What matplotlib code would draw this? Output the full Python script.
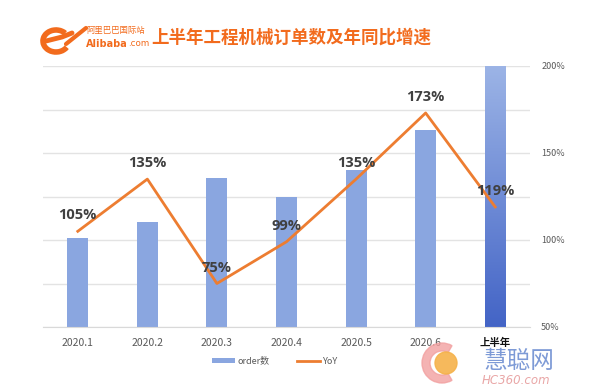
import matplotlib
matplotlib.use("Agg")
import matplotlib.pyplot as plt
import numpy as np
from matplotlib.patches import Patch, Circle, Wedge, Arc
from matplotlib.lines import Line2D
from matplotlib.colors import LinearSegmentedColormap

plt.rcParams['font.family'] = ['Noto Sans CJK SC', 'DejaVu Sans']

categories = ['2020.1', '2020.2', '2020.3', '2020.4', '2020.5', '2020.6', '上半年']
orders = [20.5, 24.1, 34.3, 29.9, 36.1, 45.3, 60.0]
yoy = [105, 135, 75, 99, 135, 173, 119]
yoy_labels = ['105%', '135%', '75%', '99%', '135%', '173%', '119%']
right_ticks = [50, 100, 150, 200]
right_tick_labels = ['50%', '100%', '150%', '200%']

W, H = 600, 387
fig = plt.figure(figsize=(6, 3.87), dpi=100)
fig.patch.set_facecolor('white')

ax = fig.add_axes([43/W, 1-327/H, (530-43)/W, (327-66)/H])
ax2 = ax.twinx()

x = np.arange(len(categories))
bar_color = '#8aa6e0'
bars = ax.bar(x, orders, width=0.3, color=bar_color, zorder=2)

# gradient for last bar
last = bars[-1]
last.set_facecolor('none')
cmap = LinearSegmentedColormap.from_list('g', ['#4364c6', '#9cb4e6'])
grad = np.linspace(0, 1, 256).reshape(-1, 1)
bx = last.get_x(); bw = last.get_width(); bh = last.get_height()
im = ax.imshow(grad, cmap=cmap, origin='lower', aspect='auto',
               extent=[bx, bx + bw, 0, bh], zorder=2)
im.set_clip_path(last)

ax.set_xlim(-0.5, len(categories) - 0.5)
ax.set_ylim(0, 60)
ax.set_yticks(np.arange(0, 61, 10))
ax.yaxis.grid(True, color='#e3e3e3', linewidth=1, zorder=0)
ax.set_axisbelow(True)
ax.tick_params(axis='y', left=False, labelleft=False)
ax.set_xticks(x)
ax.set_xticklabels(categories, fontsize=7.5, color='#595959')
ax.tick_params(axis='x', length=0, pad=8)
lbl = ax.get_xticklabels()[-1]
lbl.set_color('#111111'); lbl.set_fontweight('bold')
for s in ['top', 'left', 'right']:
    ax.spines[s].set_visible(False)
ax2.spines[:].set_visible(False)
ax.spines['bottom'].set_color('#d9d9d9')

ax2.plot(x, yoy, color='#ed7d31', linewidth=2, zorder=5)
ax2.set_ylim(50, 200)
ax2.set_yticks(right_ticks)
ax2.set_yticklabels(right_tick_labels, fontsize=6.5, color='#595959')
ax2.tick_params(axis='y', length=0, pad=8)
for xi, v, t in zip(x, yoy, yoy_labels):
    ax2.annotate(t, (xi, v), xytext=(0, 11.5), textcoords='offset points',
                 ha='center', va='center', fontsize=10.5, fontweight='bold',
                 color='#404040', family=['Open Sans', 'DejaVu Sans'], zorder=6)

handles = [Patch(facecolor=bar_color, edgecolor='none'),
           Line2D([0], [0], color='#ed7d31', linewidth=2)]
fig.legend(handles, ['order数', 'YoY'], loc='center', bbox_to_anchor=(275/W, 1-361/H),
           ncol=2, frameon=False, fontsize=6.5, labelcolor='#595959',
           handlelength=2.6, handleheight=0.5, columnspacing=3, handletextpad=0.3)

# title
orange = '#f26b1d'
fig.text(151/W, 1-38/H, '上半年工程机械订单数及年同比增速', fontsize=12.6, fontweight='bold',
         color=orange, ha='left', va='center')
fig.text(86/W, 1-31/H, '阿里巴巴国际站', fontsize=6, color=orange, ha='left', va='center')
t1 = fig.text(86/W, 1-44/H, 'Alibaba', fontsize=7, fontweight='bold', color=orange,
              ha='left', va='center', family=['DejaVu Sans'])
fig.canvas.draw()
bb = t1.get_window_extent()
fig.text(bb.x1/W, 1-44/H, '.com', fontsize=6.3, color=orange, ha='left', va='center',
         family=['DejaVu Sans'])
# logo swoosh
lax = fig.add_axes([40/W, 1-58/H, 48/W, 38/H])
lax.set_xlim(0, 48); lax.set_ylim(0, 38); lax.axis('off')
lax.add_patch(Arc((16, 17), 26, 22, theta1=40, theta2=330, color=orange, lw=4))
lax.plot([6, 22, 32], [17, 21, 25], color=orange, lw=3.5, solid_capstyle='round')
lax.plot([26, 46], [14, 30], color=orange, lw=3, solid_capstyle='round')

# watermark
wax = fig.add_axes([416/W, 1-386/H, 50/W, 46/H])
wax.set_xlim(0, 50); wax.set_ylim(0, 46); wax.axis('off'); wax.set_aspect('equal')
wax.add_patch(Wedge((26, 23), 20, 60, 300, width=8, color='#f2a0a0', alpha=0.8))
wax.add_patch(Circle((30, 23), 11, color='#f5b24a', alpha=0.9))
fig.text(483/W, 1-362/H, '慧聪网', fontsize=17, color='#7d9ad6', ha='left', va='center')
fig.text(482/W, 1-380/H, 'HC360.com', fontsize=8.5, color='#e9a6a6', ha='left',
         va='center', style='italic', family=['DejaVu Sans'])

fig.savefig('out.png', dpi=100)
